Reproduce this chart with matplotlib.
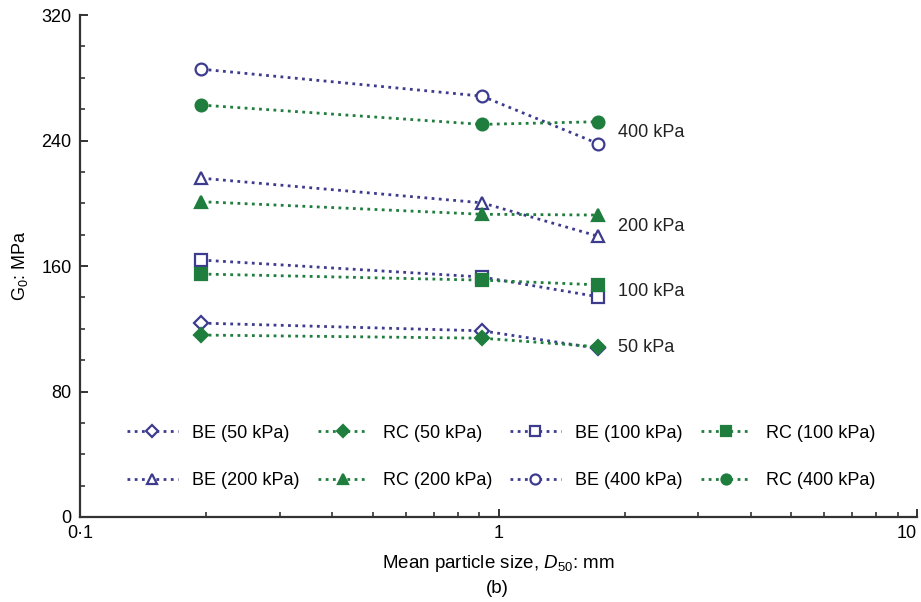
import matplotlib
matplotlib.use("Agg")
import matplotlib.pyplot as plt
from matplotlib.ticker import FixedLocator, MultipleLocator, NullFormatter

plt.rcParams['font.family'] = ['Liberation Sans', 'DejaVu Sans']
plt.rcParams['mathtext.fontset'] = 'custom'
plt.rcParams['mathtext.rm'] = 'Liberation Sans'
plt.rcParams['mathtext.it'] = 'Liberation Sans:italic'

# mean particle size D50 (mm)
d50 = [0.195, 0.913, 1.73]

be_50 = [123.6, 118.7, 107.5]
rc_50 = [116.0, 114.0, 108.5]
be_100 = [163.8, 153.0, 140.4]
rc_100 = [154.9, 151.0, 148.0]
be_200 = [216.0, 200.3, 179.0]
rc_200 = [201.0, 193.0, 192.5]
be_400 = [285.5, 268.3, 238.0]
rc_400 = [262.6, 250.3, 252.0]

pressure_labels = ['400 kPa', '200 kPa', '100 kPa', '50 kPa']
pressure_label_y = [245, 185, 144, 108.3]

be_col = '#3d3b8e'
rc_col = '#1f7d3d'

fig = plt.figure(figsize=(9.21, 6.02), dpi=100)
ax = fig.add_axes([0.0869, 0.1412, 0.9088, 0.8338])

series = [
    ('BE (50 kPa)', be_50, 'D', be_col, 'white', 7),
    ('RC (50 kPa)', rc_50, 'D', rc_col, rc_col, 7),
    ('BE (100 kPa)', be_100, 's', be_col, 'white', 8),
    ('RC (100 kPa)', rc_100, 's', rc_col, rc_col, 8),
    ('BE (200 kPa)', be_200, '^', be_col, 'white', 9),
    ('RC (200 kPa)', rc_200, '^', rc_col, rc_col, 9),
    ('BE (400 kPa)', be_400, 'o', be_col, 'white', 8.5),
    ('RC (400 kPa)', rc_400, 'o', rc_col, rc_col, 8.5),
]

handles = []
for lab, vals, mk, col, face, ms in series:
    h, = ax.plot(d50, vals, linestyle=(0, (1.0, 1.6)), linewidth=2.0, color=col,
                 marker=mk, markersize=ms, markerfacecolor=face,
                 markeredgecolor=col, markeredgewidth=1.6, label=lab)
    handles.append(h)

for lab, yv in zip(pressure_labels, pressure_label_y):
    ax.text(1.93, yv, lab, fontsize=13, va='center', ha='left', color='#222222')

ax.set_xscale('log')
ax.set_xlim(0.1, 10)
ax.set_ylim(0, 320)
ax.xaxis.set_major_locator(FixedLocator([0.1, 1, 10]))
ax.set_xticklabels(['0\u00b71', '1', '10'])
ax.get_xticklabels()[-1].set_horizontalalignment('right')
ax.xaxis.set_minor_locator(FixedLocator([0.2, 0.3, 0.4, 0.5, 0.6, 0.7, 0.8, 0.9,
                                         2, 3, 4, 5, 6, 7, 8, 9]))
ax.xaxis.set_minor_formatter(NullFormatter())
ax.yaxis.set_major_locator(MultipleLocator(80))
ax.yaxis.set_minor_locator(MultipleLocator(20))

for s in ['top', 'right']:
    ax.spines[s].set_visible(False)
for s in ['left', 'bottom']:
    ax.spines[s].set_linewidth(1.6)
    ax.spines[s].set_color('#333333')

ax.tick_params(which='major', direction='in', length=6, width=1.4, color='#333333',
               labelsize=13, pad=6)
ax.tick_params(which='minor', direction='in', length=3.5, width=1.2, color='#333333')

ax.set_xlabel(r'Mean particle size, $\mathit{D}_{50}$: mm', fontsize=13.5, labelpad=8)
ax.set_ylabel(r'G$_0$: MPa', fontsize=13, labelpad=8)
fig.text(0.5405, 0.023, '(b)', fontsize=13.5, ha='center', va='center')

order = [0, 4, 1, 5, 2, 6, 3, 7]
ax.legend([handles[i] for i in order], [handles[i].get_label() for i in order],
          ncol=4, loc='center', bbox_to_anchor=(0.503, 0.1195), frameon=False,
          fontsize=13, handlelength=2.8, handletextpad=0.8, columnspacing=1.0,
          labelspacing=1.7, markerscale=0.85)

fig.savefig('out.png', dpi=100)
